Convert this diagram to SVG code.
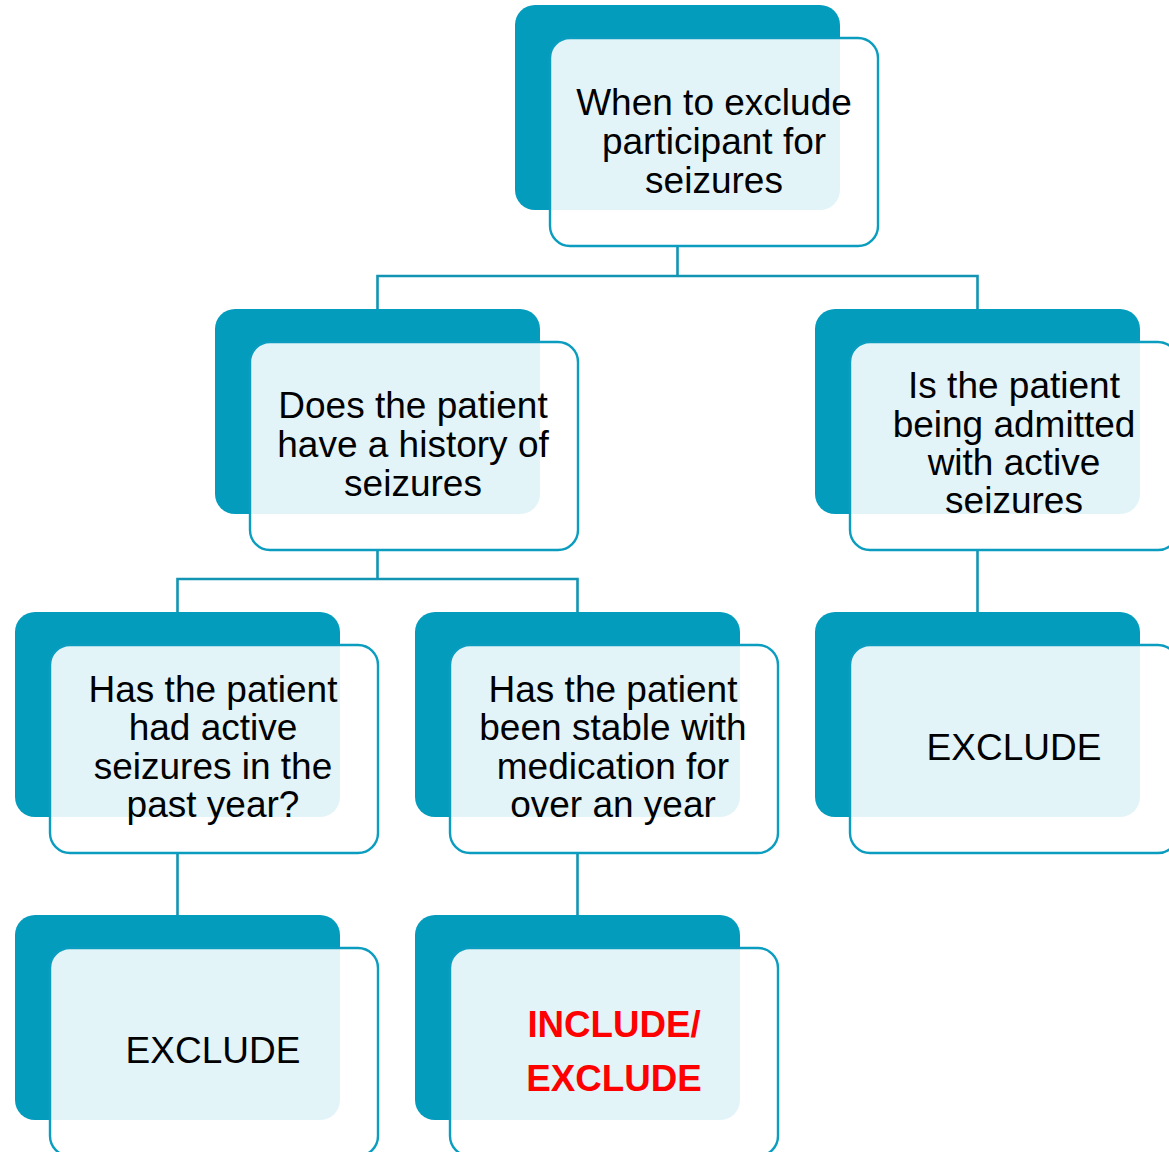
<svg xmlns="http://www.w3.org/2000/svg" width="1169" height="1152" viewBox="0 0 1169 1152">
<style>
.bg{fill:#ffffff}
.conn{fill:none;stroke:#1295b3;stroke-width:2.6}
.dark{fill:#049cbd}
.light{fill:#ffffff;fill-opacity:0.89;stroke:#0a9dbf;stroke-width:2.4}
.t{font-family:"Liberation Sans",Arial,sans-serif;font-size:37px;fill:#000000;text-anchor:middle}
.r{font-family:"Liberation Sans",Arial,sans-serif;font-size:36.7px;font-weight:bold;fill:#ff0000;text-anchor:middle}
</style>
<rect class="bg" x="0" y="0" width="1169" height="1152"/>
<g id="connectors">
<path class="conn" d="M677.5 247 V276 M377.5 309 V276 H977.5 V309"/>
<path class="conn" d="M377.5 550 V579 M177.5 612 V579 H577.5 V612"/>
<path class="conn" d="M977.5 550 V612"/>
<path class="conn" d="M177.5 853 V915"/>
<path class="conn" d="M577.5 853 V915"/>
</g>
<g id="n-root">
<rect class="dark" x="515" y="5" width="325" height="205" rx="20"/>
<rect class="light" x="550" y="38" width="328" height="208" rx="20"/>
<text class="t" x="714" y="115">When to exclude</text>
<text class="t" x="714" y="154">participant for</text>
<text class="t" x="714" y="193">seizures</text>
</g>
<g id="n-history">
<rect class="dark" x="215" y="309" width="325" height="205" rx="20"/>
<rect class="light" x="250" y="342" width="328" height="208" rx="20"/>
<text class="t" x="413" y="418">Does the patient</text>
<text class="t" x="413" y="457">have a history of</text>
<text class="t" x="413" y="496">seizures</text>
</g>
<g id="n-admitted">
<rect class="dark" x="815" y="309" width="325" height="205" rx="20"/>
<rect class="light" x="850" y="342" width="328" height="208" rx="20"/>
<text class="t" x="1014" y="398">Is the patient</text>
<text class="t" x="1014" y="437">being admitted</text>
<text class="t" x="1014" y="475">with active</text>
<text class="t" x="1014" y="513">seizures</text>
</g>
<g id="n-active">
<rect class="dark" x="15" y="612" width="325" height="205" rx="20"/>
<rect class="light" x="50" y="645" width="328" height="208" rx="20"/>
<text class="t" x="213" y="702">Has the patient</text>
<text class="t" x="213" y="740">had active</text>
<text class="t" x="213" y="779">seizures in the</text>
<text class="t" x="213" y="817">past year?</text>
</g>
<g id="n-stable">
<rect class="dark" x="415" y="612" width="325" height="205" rx="20"/>
<rect class="light" x="450" y="645" width="328" height="208" rx="20"/>
<text class="t" x="613" y="702">Has the patient</text>
<text class="t" x="613" y="740">been stable with</text>
<text class="t" x="613" y="779">medication for</text>
<text class="t" x="613" y="817">over an year</text>
</g>
<g id="n-exclude-right">
<rect class="dark" x="815" y="612" width="325" height="205" rx="20"/>
<rect class="light" x="850" y="645" width="328" height="208" rx="20"/>
<text class="t" x="1014" y="760">EXCLUDE</text>
</g>
<g id="n-exclude-left">
<rect class="dark" x="15" y="915" width="325" height="205" rx="20"/>
<rect class="light" x="50" y="948" width="328" height="208" rx="20"/>
<text class="t" x="213" y="1063">EXCLUDE</text>
</g>
<g id="n-include-exclude">
<rect class="dark" x="415" y="915" width="325" height="205" rx="20"/>
<rect class="light" x="450" y="948" width="328" height="208" rx="20"/>
<text class="r" x="614" y="1037">INCLUDE/</text>
<text class="r" x="614" y="1091">EXCLUDE</text>
</g>
</svg>
